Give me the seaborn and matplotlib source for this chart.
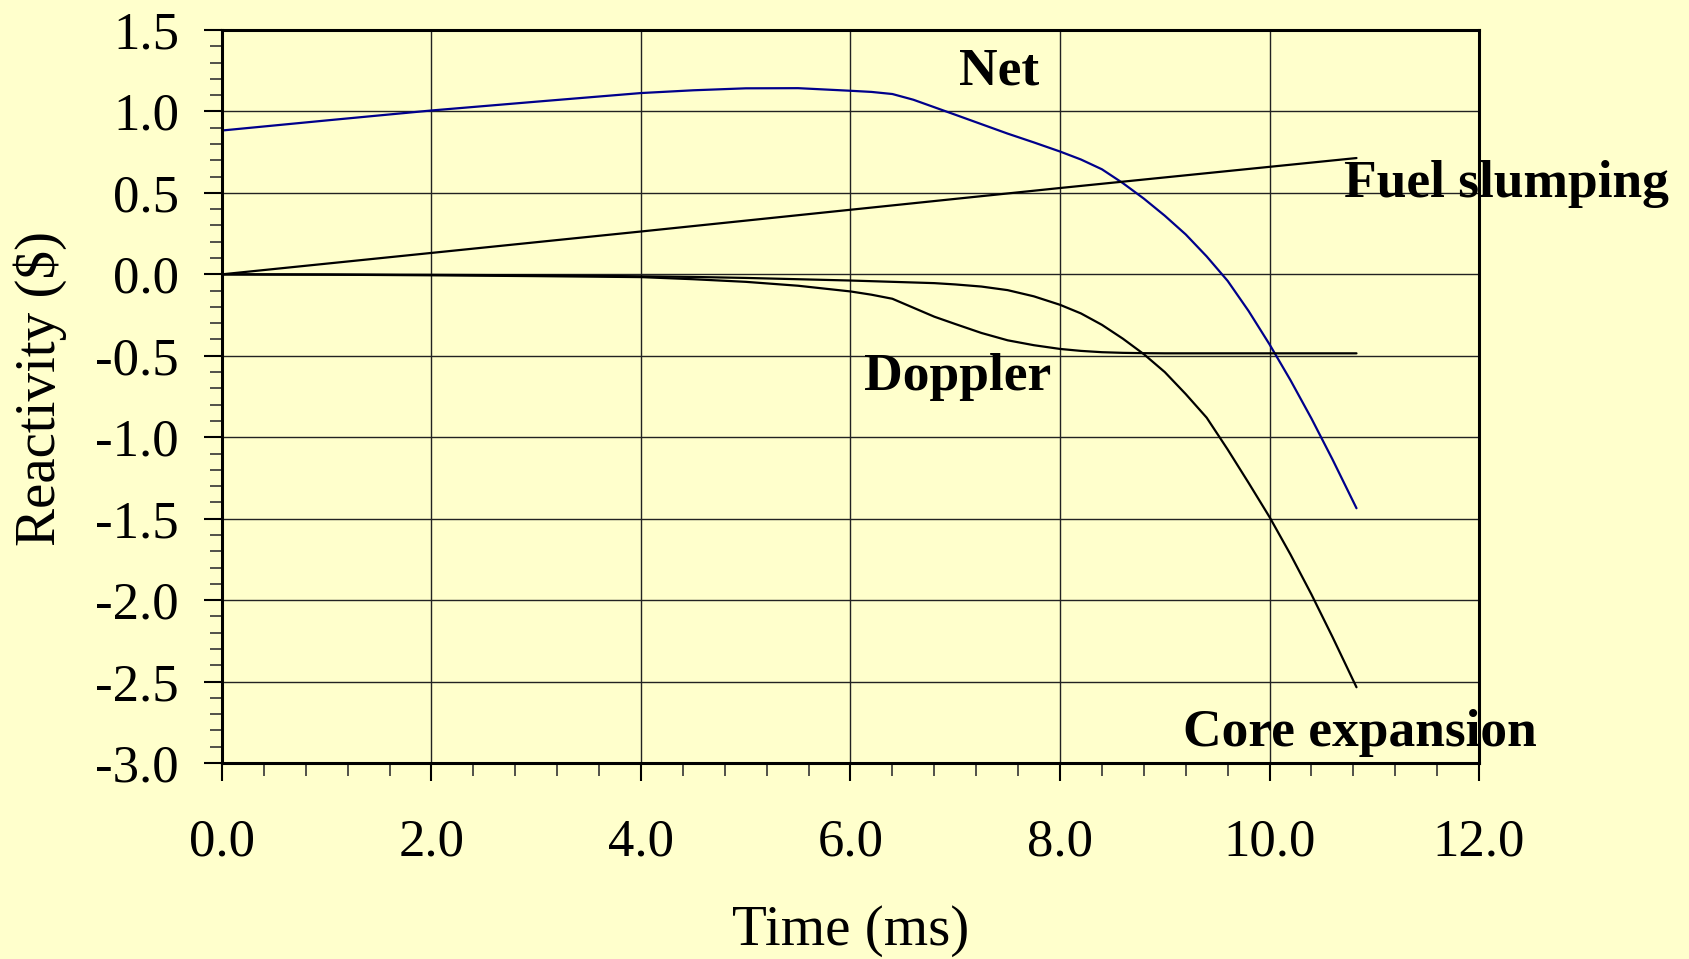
import matplotlib
matplotlib.use("Agg")
import matplotlib.pyplot as plt
import seaborn as sns
import pandas as pd
from matplotlib.ticker import MultipleLocator, FormatStrFormatter

# values
time_ms = [0.0, 1.0, 2.0, 3.0, 4.0, 4.5, 5.0, 5.5, 6.0, 6.2, 6.4, 6.6, 6.8,
           7.0, 7.25, 7.5, 7.75, 8.0, 8.2, 8.4, 8.6, 8.8, 9.0, 9.2, 9.4,
           9.6, 9.8, 10.0, 10.2, 10.4, 10.6, 10.83]
net = [0.883, 0.945, 1.006, 1.06, 1.113, 1.13, 1.142, 1.143, 1.127, 1.12,
       1.107, 1.072, 1.026, 0.98, 0.922, 0.864, 0.81, 0.754, 0.705, 0.645,
       0.56, 0.465, 0.36, 0.245, 0.11, -0.04, -0.225, -0.43, -0.65,
       -0.885, -1.135, -1.436]
doppler = [0.0, -0.002, -0.006, -0.011, -0.017, -0.03, -0.046, -0.07, -0.105,
           -0.125, -0.15, -0.205, -0.26, -0.305, -0.36, -0.405, -0.435,
           -0.458, -0.47, -0.478, -0.482, -0.484, -0.485, -0.485, -0.485,
           -0.485, -0.485, -0.485, -0.485, -0.485, -0.485, -0.485]
core_expansion = [0.0, -0.001, -0.003, -0.006, -0.012, -0.016, -0.022, -0.03,
                  -0.038, -0.042, -0.046, -0.05, -0.054, -0.062, -0.075,
                  -0.097, -0.135, -0.187, -0.24, -0.31, -0.395, -0.49, -0.6,
                  -0.735, -0.88, -1.075, -1.28, -1.49, -1.72, -1.965, -2.225,
                  -2.535]
fuel_time = [0.0, 4.0, 8.0, 10.83]
fuel_slumping = [0.0, 0.263, 0.530, 0.714]

bg = "#FFFFCC"

sns.set_theme(style="ticks")
plt.rcParams['font.family'] = ['Liberation Serif', 'DejaVu Serif']
plt.rcParams['axes.unicode_minus'] = False

fig = plt.figure(figsize=(16.89, 9.59), dpi=100, facecolor=bg)
ax = fig.add_axes([0.1314, 0.2044, 0.8757 - 0.1314, 0.9687 - 0.2044])
ax.set_facecolor(bg)

df = pd.DataFrame({"t": time_ms, "net": net, "doppler": doppler,
                   "core": core_expansion})
df_fuel = pd.DataFrame({"t": fuel_time, "fuel": fuel_slumping})

sns.lineplot(data=df, x="t", y="net", color="#00008B", lw=1.6, ax=ax)
sns.lineplot(data=df_fuel, x="t", y="fuel", color="black", lw=1.6, ax=ax)
sns.lineplot(data=df, x="t", y="doppler", color="black", lw=1.6, ax=ax)
sns.lineplot(data=df, x="t", y="core", color="black", lw=1.6, ax=ax)

ax.set_xlim(0, 12)
ax.set_ylim(-3.0, 1.5)
ax.xaxis.set_major_locator(MultipleLocator(2.0))
ax.xaxis.set_minor_locator(MultipleLocator(0.4))
ax.yaxis.set_major_locator(MultipleLocator(0.5))
ax.yaxis.set_minor_locator(MultipleLocator(0.1))
ax.xaxis.set_major_formatter(FormatStrFormatter('%.1f'))
ax.yaxis.set_major_formatter(FormatStrFormatter('%.1f'))

ax.grid(True, which="major", color="#222222", lw=1.0)
for s in ax.spines.values():
    s.set_color("black")
    s.set_linewidth(2.2)

ax.tick_params(axis="both", which="major", direction="out", length=13,
               width=1.5, color="black", labelsize=38, labelcolor="black")
ax.tick_params(axis="both", which="minor", direction="out", length=9,
               width=1.2, color="#333333")
ax.tick_params(axis="x", which="major", pad=27)
ax.tick_params(axis="y", which="major", pad=18)

ax.set_xlabel("")
ax.set_ylabel("")
fig.text(0.5036, 1 - 945 / 959, "Time (ms)", fontsize=41, color="black",
         ha="center", va="baseline")
fig.text(40 / 1689, 1 - 388 / 959, "Reactivity ($)", fontsize=41,
         color="black", ha="center", va="center", rotation=90)

lab = dict(fontsize=38.5, fontweight="bold", color="black", ha="left",
           va="baseline")
ax.text(7.035, 1.164, "Net", **lab)
ax.text(10.71, 0.474, "Fuel slumping", **lab)
ax.text(6.13, -0.71, "Doppler", **lab)
ax.text(9.17, -2.896, "Core expansion", **lab)

fig.savefig("out.png", dpi=100, facecolor=bg)
